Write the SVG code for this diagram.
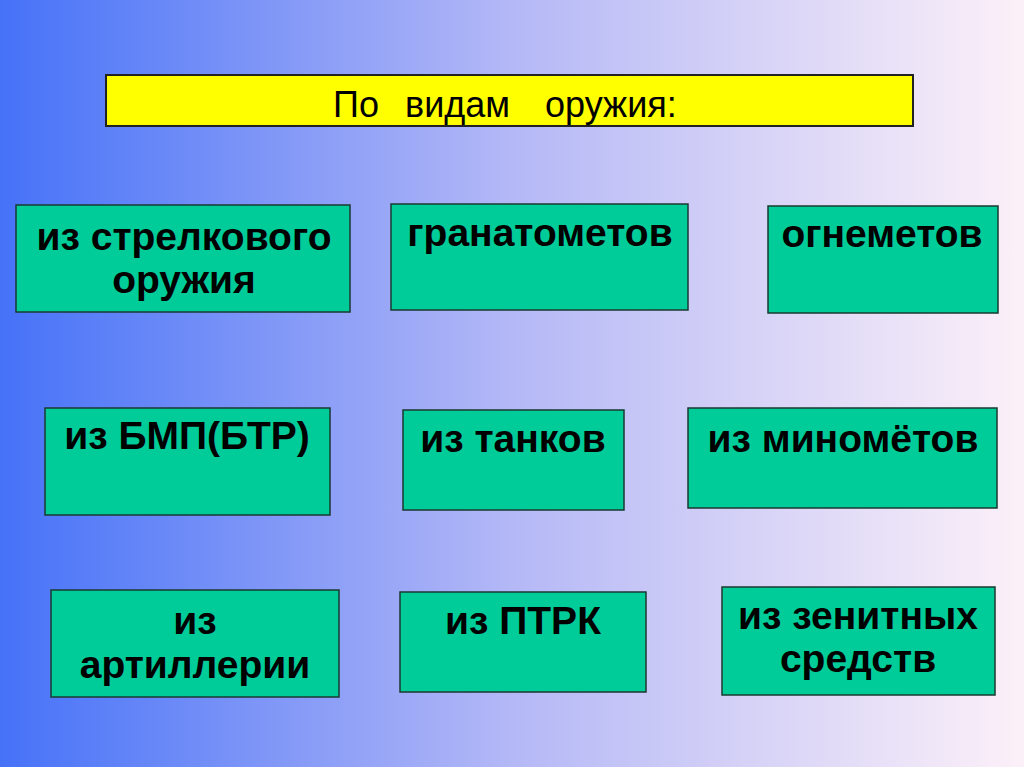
<svg xmlns="http://www.w3.org/2000/svg" width="1024" height="767" viewBox="0 0 1024 767">
<defs>
<linearGradient id="bg" x1="0" y1="0" x2="1" y2="0">
<stop offset="0" stop-color="#4672f8"/>
<stop offset="0.5" stop-color="#b4b8f6"/>
<stop offset="1" stop-color="#fcf0f8"/>
</linearGradient>
<style>
.box{fill:#00cc99;stroke:#1a3a30;stroke-width:1.5}
.t{font-family:"Liberation Sans",Arial,sans-serif;font-weight:bold;font-size:39px;fill:#000;text-anchor:middle}
.title{font-family:"Liberation Sans",Arial,sans-serif;font-size:36px;fill:#000}
</style>
</defs>
<rect x="0" y="0" width="1024" height="767" fill="url(#bg)"/>
<g id="title">
<rect x="106" y="75" width="807" height="51" fill="#ffff00" stroke="#222" stroke-width="2"/>
<text class="title" y="117"><tspan x="333">По</tspan><tspan x="405">видам</tspan><tspan x="545">оружия:</tspan></text>
</g>
<g id="n1"><rect class="box" x="16" y="205" width="334" height="107"/>
<text class="t" x="184" y="250">из стрелкового</text><text class="t" x="184" y="293">оружия</text></g>
<g id="n2"><rect class="box" x="391" y="204" width="297" height="106"/>
<text class="t" x="540" y="246">гранатометов</text></g>
<g id="n3"><rect class="box" x="768" y="206" width="230" height="107"/>
<text class="t" x="882" y="247">огнеметов</text></g>
<g id="n4"><rect class="box" x="45" y="408" width="285" height="107"/>
<text class="t" x="187" y="449">из БМП(БТР)</text></g>
<g id="n5"><rect class="box" x="403" y="410" width="221" height="100"/>
<text class="t" x="513" y="452">из танков</text></g>
<g id="n6"><rect class="box" x="688" y="408" width="309" height="100"/>
<text class="t" x="843" y="452">из миномётов</text></g>
<g id="n7"><rect class="box" x="51" y="590" width="288" height="107"/>
<text class="t" x="195" y="634">из</text><text class="t" x="195" y="678">артиллерии</text></g>
<g id="n8"><rect class="box" x="400" y="592" width="246" height="100"/>
<text class="t" x="523" y="634">из ПТРК</text></g>
<g id="n9"><rect class="box" x="722" y="587" width="273" height="108"/>
<text class="t" x="858" y="629">из зенитных</text><text class="t" x="858" y="672">средств</text></g>
</svg>
